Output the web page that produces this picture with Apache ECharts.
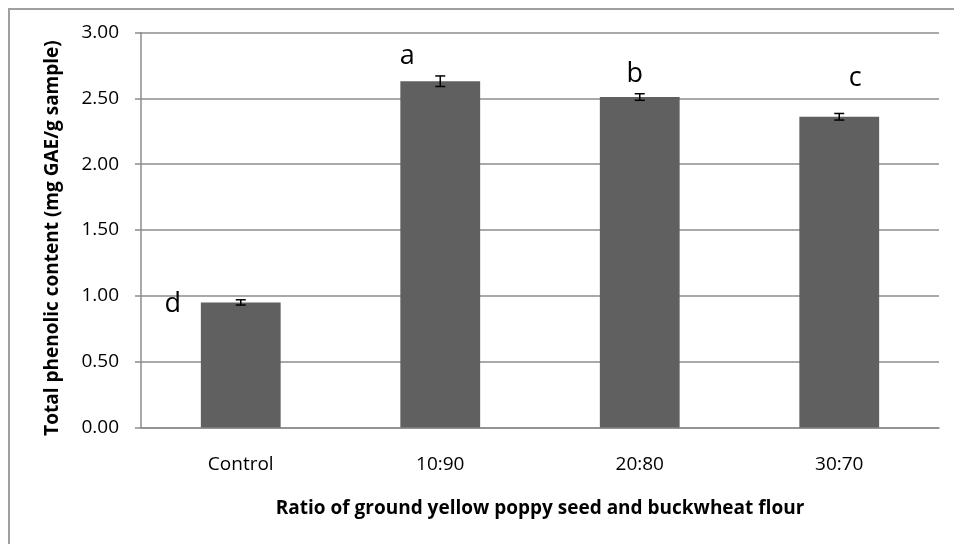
<!DOCTYPE html>
<html>
<head>
<meta charset="utf-8">
<script src="https://cdn.jsdelivr.net/npm/echarts@6/dist/echarts.min.js"></script>
<style>
html,body{margin:0;padding:0;background:#fff;}
#chart{width:954px;height:544px;}
</style>
</head>
<body>
<div id="chart"></div>
<script>
var categories = ['Control', '10:90', '20:80', '30:70'];
var values = [0.95, 2.63, 2.51, 2.36];
var errors = [0.02, 0.04, 0.025, 0.025];
var letters = ['d', 'a', 'b', 'c'];
var yTicks = [0, 0.5, 1, 1.5, 2, 2.5, 3];

var letterOffsets = [[-68, 15], [-33, -11], [-5, -9], [16, -25]];
var FONT = '"Open Sans", sans-serif';

var chart = echarts.init(document.getElementById('chart'), null, {renderer: 'canvas'});

var barData = values.map(function (v, i) {
  return {
    value: v,
    label: {
      show: true,
      position: 'top',
      distance: 0,
      formatter: letters[i],
      offset: letterOffsets[i],
      fontSize: 27,
      fontFamily: FONT,
      color: '#000'
    }
  };
});

var errData = values.map(function (v, i) { return [i, v - errors[i], v + errors[i]]; });

chart.setOption({
  animation: false,
  backgroundColor: '#fff',
  graphic: [{
    type: 'rect',
    shape: {x: 9, y: 9, width: 980, height: 580},
    style: {fill: 'none', stroke: '#a0a0a0', lineWidth: 2},
    silent: true,
    z: -10
  }],
  grid: {left: 141, right: 15, top: 32.5, bottom: 116.5},
  xAxis: {
    type: 'category',
    data: categories,
    axisLine: {show: true, lineStyle: {color: '#8c8c8c', width: 1.5}},
    axisTick: {show: false},
    axisLabel: {fontSize: 19, fontFamily: FONT, color: '#000', margin: 28},
    name: 'Ratio of ground yellow poppy seed and buckwheat flour',
    nameLocation: 'middle',
    nameGap: 72,
    nameTextStyle: {fontSize: 19, fontWeight: 'bold', fontFamily: FONT, color: '#000'}
  },
  yAxis: {
    type: 'value',
    min: yTicks[0],
    max: yTicks[yTicks.length - 1],
    interval: 0.5,
    axisLine: {show: true, lineStyle: {color: '#8c8c8c', width: 1.5}},
    axisTick: {show: true, length: 6, lineStyle: {color: '#8c8c8c', width: 1.5}},
    splitLine: {show: true, lineStyle: {color: '#8c8c8c', width: 1.5}},
    axisLabel: {
      fontSize: 19, fontFamily: FONT, color: '#000', margin: 22,
      formatter: function (v) { return v.toFixed(2); }
    },
    name: 'Total phenolic content (mg GAE/g sample)',
    nameLocation: 'middle',
    nameGap: 79,
    nameTextStyle: {fontSize: 19, fontWeight: 'bold', fontFamily: FONT, color: '#000', padding: [0, 16, 0, 0]}
  },
  series: [{
    type: 'bar',
    data: barData,
    barWidth: '40%',
    itemStyle: {color: '#606060'},
    z: 2
  }, {
    type: 'custom',
    data: errData,
    z: 5,
    renderItem: function (params, api) {
      var x = api.value(0);
      var lo = api.coord([x, api.value(1)]);
      var hi = api.coord([x, api.value(2)]);
      var w = 5;
      var st = {stroke: '#000', lineWidth: 1.5};
      return {
        type: 'group',
        children: [
          {type: 'line', shape: {x1: lo[0], y1: lo[1], x2: hi[0], y2: hi[1]}, style: st},
          {type: 'line', shape: {x1: lo[0] - w, y1: lo[1], x2: lo[0] + w, y2: lo[1]}, style: st},
          {type: 'line', shape: {x1: hi[0] - w, y1: hi[1], x2: hi[0] + w, y2: hi[1]}, style: st}
        ]
      };
    }
  }]
});
</script>
</body>
</html>
